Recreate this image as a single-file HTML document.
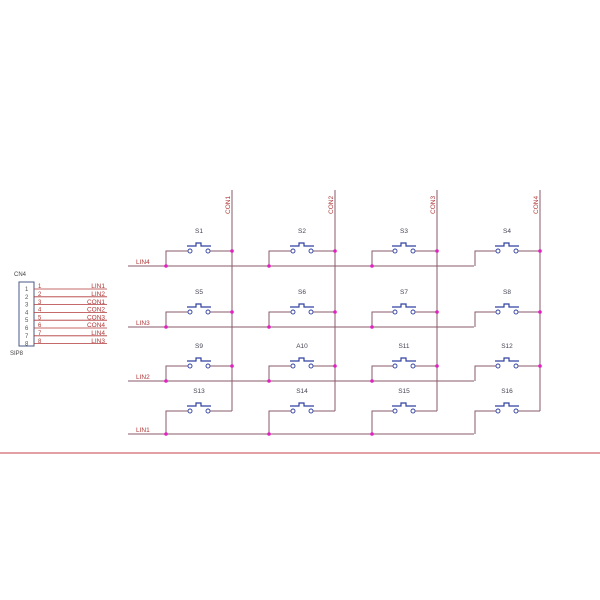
<!DOCTYPE html>
<html><head><style>body{margin:0;background:#fff}svg{display:block}</style></head><body>
<svg width="600" height="600" xmlns="http://www.w3.org/2000/svg" font-family="Liberation Sans, sans-serif">
<line x1="0" y1="453" x2="600" y2="453" stroke="#c0404a" stroke-width="1"/>
<g id="cn">
<rect x="19" y="282" width="15" height="64" fill="none" stroke="#4a5a8a" stroke-width="1"/>
<text x="14" y="276" font-size="6" fill="#444">CN4</text>
<text x="10" y="355" font-size="6" fill="#444">SIP8</text>
</g>
<g font-size="6.5" fill="#b03030" stroke="none"></g>
<g id="main"></g>
<script>
const ns="http://www.w3.org/2000/svg";const s=document.querySelector('svg');
function el(t,a,txt){const e=document.createElementNS(ns,t);for(const k in a)e.setAttribute(k,a[k]);if(txt)e.textContent=txt;s.appendChild(e);return e;}
const W="#8a5a6a",R="#b03838",B="#3040a0",D="#e020c0";
const labs=["LIN1","LIN2","CON1","CON2","CON3","CON4","LIN4","LIN3"];
for(let i=0;i<8;i++){const y=289+i*7.8;
el('line',{x1:34,y1:y,x2:107,y2:y,stroke:R,'stroke-width':0.8});
el('text',{x:38,y:y-0.8,'font-size':6,fill:R},String(i+1));
el('text',{x:25,y:y+2,'font-size':6,fill:'#555'},String(i+1));
el('text',{x:105,y:y-0.8,'font-size':6.5,fill:R,'text-anchor':'end'},labs[i]);}
const cols=[232,335,437,540],sw=[251,312,366,411],ln=[266,327,381,434],lnl=["LIN4","LIN3","LIN2","LIN1"];
const names=[["S1","S2","S3","S4"],["S5","S6","S7","S8"],["S9","A10","S11","S12"],["S13","S14","S15","S16"]];
cols.forEach((c,i)=>{el('line',{x1:c,y1:190,x2:c,y2:411,stroke:W,'stroke-width':1});
const t=el('text',{x:0,y:0,'font-size':6.5,fill:R,transform:`translate(${c-2},214) rotate(-90)`},"CON"+(i+1));});
for(let r=0;r<4;r++){
el('line',{x1:128,y1:ln[r],x2:474,y2:ln[r],stroke:W,'stroke-width':1});
el('text',{x:136,y:ln[r]-2,'font-size':6.5,fill:R},lnl[r]);
for(let c=0;c<4;c++){const L=166+c*103,cx=cols[c],m=cx-33;
el('polyline',{points:`${L},${ln[r]} ${L},${sw[r]} ${m-11},${sw[r]}`,fill:'none',stroke:W,'stroke-width':1});
el('line',{x1:m+11,y1:sw[r],x2:cx,y2:sw[r],stroke:W,'stroke-width':1});
el('circle',{cx:m-9,cy:sw[r],r:2,fill:'#fff',stroke:B,'stroke-width':0.9});
el('circle',{cx:m+9,cy:sw[r],r:2,fill:'#fff',stroke:B,'stroke-width':0.9});
el('polyline',{points:`${m-12},${sw[r]-5} ${m-3},${sw[r]-5} ${m-3},${sw[r]-8} ${m+2},${sw[r]-8} ${m+2},${sw[r]-5} ${m+12},${sw[r]-5}`,fill:'none',stroke:B,'stroke-width':1.2});
el('text',{x:m,y:sw[r]-18,'font-size':6.5,fill:'#445','text-anchor':'middle'},names[r][c]);
if(c<3)el('circle',{cx:L,cy:ln[r],r:1.8,fill:D});
if(r<3)el('circle',{cx:cx,cy:sw[r],r:1.8,fill:D});}}
</script>
</svg>
</body></html>
